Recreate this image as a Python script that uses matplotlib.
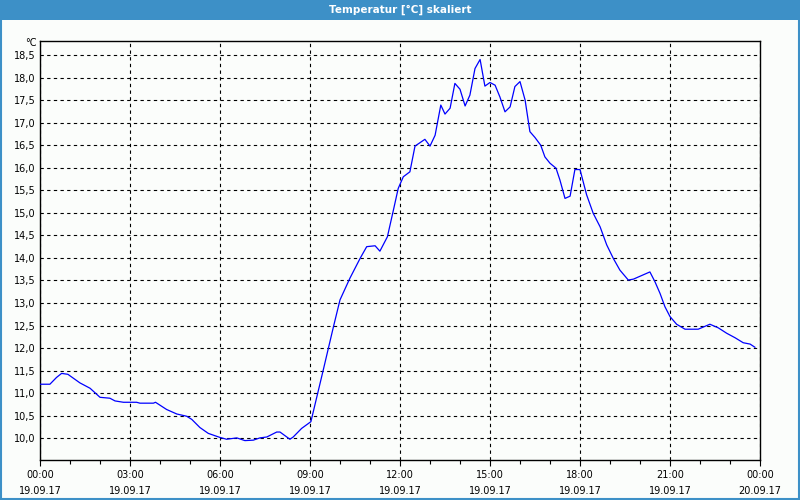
import matplotlib.pyplot as plt
from matplotlib.patches import Rectangle
from matplotlib.ticker import MultipleLocator, FuncFormatter

# time in hours since 19.09.17 00:00, temperature in °C
hours = [0.0, 0.33, 0.55, 0.72, 0.93, 1.33, 1.67, 2.0, 2.33, 2.5, 2.78, 3.22,
         3.33, 3.78, 3.85, 4.22, 4.56, 4.89, 5.06, 5.33, 5.61, 6.0, 6.22, 6.56,
         6.83, 7.11, 7.33, 7.56, 7.89, 8.0, 8.33, 8.44, 8.72, 9.03, 9.44, 9.78,
         10.0, 10.33, 10.67, 10.89, 11.17, 11.33, 11.58, 11.78, 11.94, 12.11,
         12.33, 12.5, 12.83, 13.0, 13.17, 13.36, 13.5, 13.67, 13.83, 14.0,
         14.17, 14.33, 14.5, 14.67, 14.83, 15.0, 15.17, 15.33, 15.5, 15.67,
         15.83, 16.0, 16.17, 16.33, 16.5, 16.69, 16.83, 17.0, 17.2, 17.33,
         17.5, 17.67, 17.83, 18.0, 18.22, 18.44, 18.67, 18.89, 19.11, 19.33,
         19.61, 19.78, 20.33, 20.5, 20.67, 20.83, 21.0, 21.22, 21.5, 21.78,
         21.94, 22.33, 22.61, 22.89, 23.17, 23.44, 23.67, 23.83]
temps = [11.20, 11.20, 11.35, 11.44, 11.42, 11.23, 11.11, 10.91, 10.89, 10.83,
         10.80, 10.80, 10.78, 10.78, 10.80, 10.64, 10.54, 10.49, 10.42, 10.24,
         10.11, 10.02, 9.98, 10.01, 9.95, 9.96, 10.01, 10.03, 10.14, 10.14,
         9.98, 10.03, 10.22, 10.37, 11.51, 12.47, 13.07, 13.55, 13.99, 14.25,
         14.27, 14.15, 14.47, 15.06, 15.54, 15.80, 15.91, 16.48, 16.63, 16.48,
         16.72, 17.39, 17.19, 17.32, 17.87, 17.74, 17.37, 17.61, 18.20, 18.40,
         17.81, 17.89, 17.83, 17.57, 17.24, 17.35, 17.80, 17.91, 17.50, 16.80,
         16.67, 16.50, 16.24, 16.10, 15.99, 15.73, 15.32, 15.37, 15.96, 15.96,
         15.40, 14.99, 14.69, 14.29, 13.99, 13.73, 13.51, 13.53, 13.69, 13.47,
         13.21, 12.92, 12.70, 12.53, 12.42, 12.42, 12.42, 12.53, 12.45, 12.33,
         12.23, 12.12, 12.09, 12.02]

tick_hours = [0, 3, 6, 9, 12, 15, 18, 21, 24]
tick_labels = ['00:00\n19.09.17', '03:00\n19.09.17', '06:00\n19.09.17',
               '09:00\n19.09.17', '12:00\n19.09.17', '15:00\n19.09.17',
               '18:00\n19.09.17', '21:00\n19.09.17', '00:00\n20.09.17']

bg = '#fbfdfb'
bar_blue = '#3d90c7'

fig = plt.figure(figsize=(8, 5), dpi=100, facecolor=bg)
ax = fig.add_axes([0.05, 0.08, 0.90, 0.838], facecolor=bg)

# title bar and window frame
fig.patches.append(Rectangle((0, 0.96), 1, 0.04, transform=fig.transFigure,
                             facecolor=bar_blue, edgecolor='none', zorder=0))
fig.patches.append(Rectangle((0.001, 0.002), 0.998, 0.996, transform=fig.transFigure,
                             facecolor='none', edgecolor=bar_blue, lw=1.5, zorder=5))
fig.text(0.5, 0.98, 'Temperatur [°C] skaliert', color='white', fontsize=7.5,
         fontweight='bold', ha='center', va='center')

ax.plot(hours, temps, color='#0000ff', lw=0.9, zorder=3)

ax.set_xlim(0, 24)
ax.set_xticks(tick_hours)
ax.set_xticklabels(tick_labels, fontsize=7, linespacing=1.75)
ax.xaxis.set_minor_locator(MultipleLocator(1))
ax.yaxis.set_major_locator(MultipleLocator(0.5))
ax.yaxis.set_major_formatter(FuncFormatter(lambda v, p: f'{v:.1f}'.replace('.', ',')))
ax.set_ylim(9.52, 18.81)

ax.tick_params(axis='y', length=0, pad=3, labelsize=7)
ax.tick_params(axis='x', which='major', length=4, width=0.8, pad=3)
ax.tick_params(axis='x', which='minor', length=3, width=0.8)

ax.grid(True, which='major', color='black', lw=0.8, linestyle=(0, (3, 3)))
for s in ax.spines.values():
    s.set_color('black')
    s.set_linewidth(1.0)

ax.text(-0.004, 0.995, '°C', transform=ax.transAxes, ha='right', va='center',
        fontsize=7)

fig.savefig('out.png', dpi=100, facecolor=bg)
